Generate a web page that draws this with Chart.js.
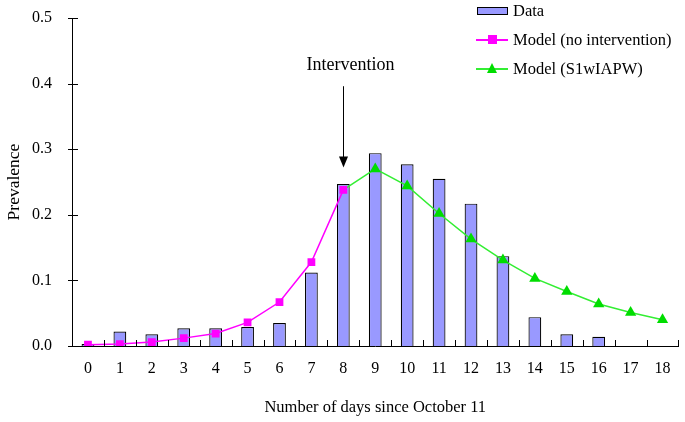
<!DOCTYPE html>
<html><head><meta charset="utf-8">
<script src="https://cdn.jsdelivr.net/npm/chart.js@4/dist/chart.umd.min.js"></script>
<style>
html,body{margin:0;padding:0;background:#fff;}
#wrap{position:relative;width:685px;height:422px;}
#legend{position:absolute;left:476px;top:0;font-family:"Liberation Serif",serif;font-size:16.5px;color:#000;}
.li{position:absolute;left:0;white-space:nowrap;height:20px;}
.li span{position:absolute;left:37px;top:0;line-height:20px;}
.sw{position:absolute;left:0;}
</style></head>
<body><div id="wrap"><canvas id="c" width="685" height="422"></canvas>
<div id="legend">
 <div class="li" style="top:1px"><div class="sw" style="left:1px;top:6px;width:29px;height:6px;background:#9999FF;border:1px solid #000;"></div><span>Data</span></div>
 <div class="li" style="top:30px"><div class="sw" style="top:9px;width:32px;height:1.5px;background:#FF00FF;"></div><div class="sw" style="left:12px;top:5px;width:9px;height:9px;background:#FF00FF;"></div><span>Model (no intervention)</span></div>
 <div class="li" style="top:59px"><div class="sw" style="top:9px;width:32px;height:1.5px;background:#33EE33;"></div><div class="sw" style="left:11px;top:4px;width:0;height:0;border-left:5.5px solid transparent;border-right:5.5px solid transparent;border-bottom:10px solid #00DD00;"></div><span>Model (S1wIAPW)</span></div>
</div></div>
<script>
const categories = ['0','1','2','3','4','5','6','7','8','9','10','11','12','13','14','15','16','17','18'];
const dataValues = [0.003,0.022,0.018,0.027,0.027,0.029,0.035,0.112,0.247,0.294,0.277,0.255,0.217,0.137,0.044,0.018,0.014,null,null];
const modelNoIntervention = [0.002,0.003,0.006,0.012,0.019,0.036,0.067,0.128,0.238,null,null,null,null,null,null,null,null,null,null];
const modelS1wIAPW = [null,null,null,null,null,null,null,null,0.238,0.270,0.244,0.202,0.163,0.131,0.103,0.083,0.064,0.051,0.040];
const yTicks = [0,0.1,0.2,0.3,0.4,0.5];
const interventionIndex = 8;
const interventionLabel = 'Intervention';

const FONT = '"Liberation Serif", serif';

const decor = {
  id:'decor',
  afterDraw(chart){
    const ctx = chart.ctx, x = chart.scales.x, y = chart.scales.y;
    const ca = chart.chartArea;
    ctx.save();
    ctx.strokeStyle = '#000'; ctx.lineWidth = 1;
    const step = x.getPixelForValue(1) - x.getPixelForValue(0);
    for (let i = 0; i <= categories.length; i++) {
      const px = Math.round(x.getPixelForValue(0) + (i - 0.5) * step) + 0.5;
      ctx.beginPath(); ctx.moveTo(px, ca.bottom); ctx.lineTo(px, ca.bottom - 6); ctx.stroke();
    }
    yTicks.forEach(v => {
      const py = Math.round(y.getPixelForValue(v)) + 0.5;
      ctx.beginPath(); ctx.moveTo(ca.left - 4, py); ctx.lineTo(ca.left + 6, py); ctx.stroke();
    });
    const ax = Math.round(x.getPixelForValue(interventionIndex)) + 0.5;
    const yTop = y.getPixelForValue(0.396), yTip = y.getPixelForValue(0.272);
    ctx.beginPath(); ctx.moveTo(ax, yTop); ctx.lineTo(ax, yTip - 8); ctx.stroke();
    ctx.fillStyle = '#000';
    ctx.beginPath(); ctx.moveTo(ax - 4.5, yTip - 11); ctx.lineTo(ax + 4.5, yTip - 11); ctx.lineTo(ax, yTip); ctx.closePath(); ctx.fill();
    ctx.font = '18px ' + FONT; ctx.textAlign = 'center'; ctx.textBaseline = 'middle';
    ctx.fillText(interventionLabel, ax + 7, y.getPixelForValue(0.428));
    ctx.restore();
  }
};

new Chart(document.getElementById('c'), {
  type:'bar',
  data:{
    labels:categories,
    datasets:[
      {type:'line',label:'Model (no intervention)',data:modelNoIntervention,borderColor:'#FF00FF',backgroundColor:'#FF00FF',borderWidth:1.5,pointStyle:'rect',pointRadius:5.5,pointBorderWidth:0,tension:0,order:1},
      {type:'line',label:'Model (S1wIAPW)',data:modelS1wIAPW,borderColor:'#33EE33',backgroundColor:'#00DD00',borderWidth:1.5,pointStyle:'triangle',pointRadius:modelS1wIAPW.map((v,i)=>i===interventionIndex?0:6.5),pointBorderWidth:0,tension:0,order:2},
      {type:'bar',label:'Data',data:dataValues,backgroundColor:'#9999FF',borderColor:'#000',borderWidth:1.2,barPercentage:0.4,categoryPercentage:1,order:3}
    ]
  },
  options:{
    responsive:false,animation:false,
    layout:{padding:{top:18,right:4,left:0,bottom:0}},
    plugins:{legend:{display:false},tooltip:{enabled:false}},
    scales:{
      x:{offset:true,grid:{display:false,offset:true},border:{display:true,color:'#000',width:1},
        ticks:{color:'#000',font:{family:FONT,size:16},padding:5,maxRotation:0,autoSkip:false},
        title:{display:true,text:'Number of days since October 11',color:'#000',font:{family:FONT,size:16.5},padding:{top:0,bottom:4}},
        afterFit(s){s.height=76;}},
      y:{min:0,max:0.5,grid:{display:false},border:{display:true,color:'#000',width:1},
        afterBuildTicks(s){s.ticks=yTicks.map(v=>({value:v}));},
        ticks:{color:'#000',font:{family:FONT,size:16,lineHeight:0.6},padding:12,callback:v=>Number(v).toFixed(1)},
        title:{display:true,text:'Prevalence',color:'#000',font:{family:FONT,size:17.5},padding:{top:4,bottom:0}},
        afterFit(s){s.width=72;s.paddingTop=0;s.paddingBottom=0;}}
    }
  },
  plugins:[decor]
});
</script></body></html>
